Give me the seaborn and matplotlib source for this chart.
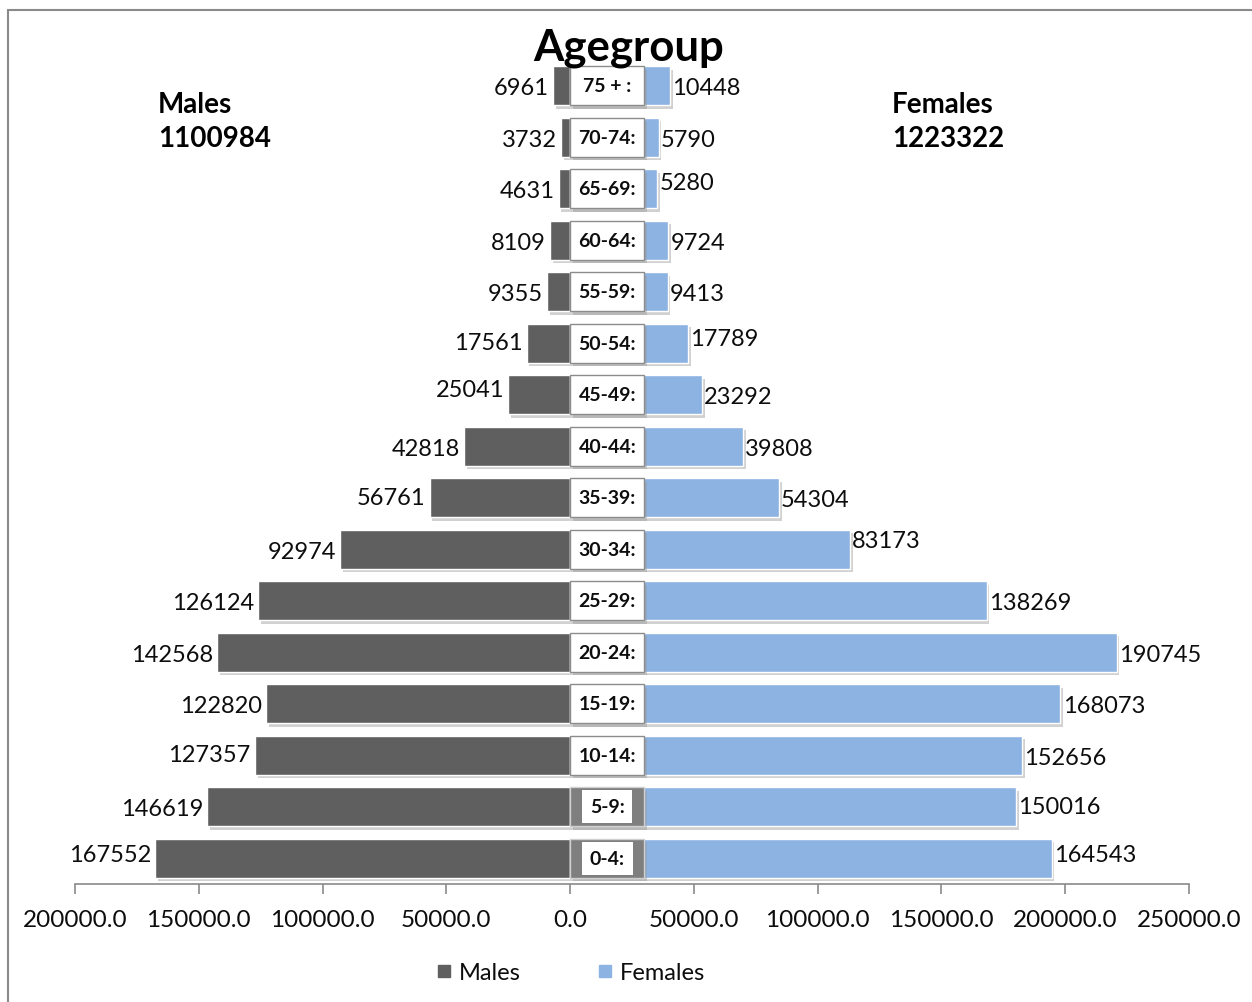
import matplotlib
matplotlib.use("Agg")
import matplotlib.pyplot as plt
import matplotlib.patheffects as pe
from matplotlib.patches import Rectangle
from matplotlib.lines import Line2D
from matplotlib.ticker import FuncFormatter
import seaborn as sns
import pandas as pd

# ---- data (top row to bottom row) ----
age_groups = ["75 + :", "70-74:", "65-69:", "60-64:", "55-59:", "50-54:", "45-49:",
              "40-44:", "35-39:", "30-34:", "25-29:", "20-24:", "15-19:", "10-14:",
              "5-9:", "0-4:"]
males = [6961, 3732, 4631, 8109, 9355, 17561, 25041, 42818, 56761, 92974,
         126124, 142568, 122820, 127357, 146619, 167552]
females = [10448, 5790, 5280, 9724, 9413, 17789, 23292, 39808, 54304, 83173,
           138269, 190745, 168073, 152656, 150016, 164543]
total_males = 1100984
total_females = 1223322
x_ticks = [-200000, -150000, -100000, -50000, 0, 50000, 100000, 150000, 200000, 250000]

# ---- layout / style constants ----
GAP = 30000  # width of the central label band (axis units)
MALE_C = "#5F5F5F"
FEMALE_C = "#8DB3E2"
BAND_GRAY = ["5-9:", "0-4:"]
# small vertical nudges of some value labels (points, + = up)
male_dy = [0, 0, 0, 0, 0, 2, 5, 0, 2, 0, 0, 0, 0, 2, 0, 4]
female_dy = [0, 0, 6, 0, 0, 5, 0, 0, 0, 8, 0, 0, 0, 0, 2, 4]
BASE_DY = -1.5

sns.set_theme(style="white")
plt.rcParams["font.family"] = ["Lato", "DejaVu Sans"]
plt.rcParams["text.color"] = "black"
plt.rcParams["legend.labelcolor"] = "black"

df = pd.DataFrame({"age": age_groups, "males": males, "females": females})
df["male_neg"] = -df["males"]
df["female_end"] = df["females"] + GAP
df["band"] = GAP

fig = plt.figure(figsize=(12.52, 10.03), dpi=100)
ax = fig.add_axes([75 / 1252, 1 - 885 / 1003, (1189 - 75) / 1252, (885 - 61) / 1003])

shadow = [pe.SimplePatchShadow(offset=(2, -2.5), shadow_rgbFace="#9a9a9a", alpha=0.45), pe.Normal()]

sns.barplot(data=df, y="age", x="male_neg", orient="h", order=age_groups, color=MALE_C,
            saturation=1, width=0.75, ax=ax, edgecolor="white", linewidth=1)
n_m = len(ax.patches)
sns.barplot(data=df, y="age", x="female_end", orient="h", order=age_groups, color=FEMALE_C,
            saturation=1, width=0.75, ax=ax, edgecolor="white", linewidth=1)
n_f = len(ax.patches)
sns.barplot(data=df, y="age", x="band", orient="h", order=age_groups, color="white",
            saturation=1, width=0.75, ax=ax, edgecolor="#8c8c8c", linewidth=1.0)
for p in ax.patches:
    p.set_path_effects(shadow)
band_patches = ax.patches[n_f:]
for p, lab in zip(band_patches, age_groups):
    if lab in BAND_GRAY:
        p.set_facecolor("#7F7F7F")
        p.set_edgecolor("#d0d0d0")
    p.set_zorder(3)

VAL_FS = 17
# value labels and band labels
for i, lab in enumerate(age_groups):
    ax.annotate(f"{males[i]}", xy=(-males[i], i), xytext=(-3, male_dy[i] + BASE_DY),
                textcoords="offset points", ha="right", va="center",
                fontsize=VAL_FS, color="#0d0d0d")
    ax.annotate(f"{females[i]}", xy=(females[i] + GAP, i), xytext=(1.5, female_dy[i] + BASE_DY),
                textcoords="offset points", ha="left", va="center",
                fontsize=VAL_FS, color="#0d0d0d")
    ax.text(GAP / 2, i, lab, ha="center", va="center", fontsize=14, fontweight="bold",
            color="#0d0d0d", zorder=5,
            bbox=dict(boxstyle="square,pad=0.4", fc="white", ec="none") if lab in BAND_GRAY else None)

ax.set_xlim(-200000, 250000)
ax.set_ylim(len(age_groups) - 0.5, -0.5)
ax.set_xticks(x_ticks)
ax.xaxis.set_major_formatter(FuncFormatter(lambda v, p: f"{abs(v):.1f}"))
ax.tick_params(axis="x", which="both", bottom=True, length=7, width=1.2, color="#8a8a8a",
               pad=11, labelsize=17.5, labelcolor="#0d0d0d")
ax.set_yticks([])
ax.set_xlabel("")
ax.set_ylabel("")
for s in ["top", "right", "left"]:
    ax.spines[s].set_visible(False)
ax.spines["bottom"].set_color("#8a8a8a")
ax.spines["bottom"].set_linewidth(1.2)

# titles
fig.text(629 / 1252, 1 - 48.5 / 1003, "Agegroup", ha="center", va="center",
         fontsize=31.5, fontweight="bold", color="black")
fig.text(158 / 1252, 1 - 122 / 1003, f"Males\n{total_males}", ha="left", va="center",
         fontsize=20, fontweight="bold", linespacing=1.42, color="black")
fig.text(892 / 1252, 1 - 122 / 1003, f"Females\n{total_females}", ha="left", va="center",
         fontsize=20, fontweight="bold", linespacing=1.42, color="black")

# legend
handles = [Line2D([], [], marker="s", linestyle="none", markersize=9, color=MALE_C),
           Line2D([], [], marker="s", linestyle="none", markersize=9, color=FEMALE_C)]
fig.legend(handles, ["Males", "Females"], loc="center", bbox_to_anchor=(571 / 1252, 1 - 973.5 / 1003),
           ncol=2, frameon=False, fontsize=17, handlelength=0.6, handletextpad=0.3,
           columnspacing=3.3, labelcolor="#0d0d0d")

# outer chart frame
fig.patches.append(Rectangle((8 / 1252, -0.2), 1.5, 1.2 - 11 / 1003, transform=fig.transFigure,
                             fill=False, edgecolor="#8a8a8a", linewidth=1.5))

fig.savefig("out.png", dpi=100)
